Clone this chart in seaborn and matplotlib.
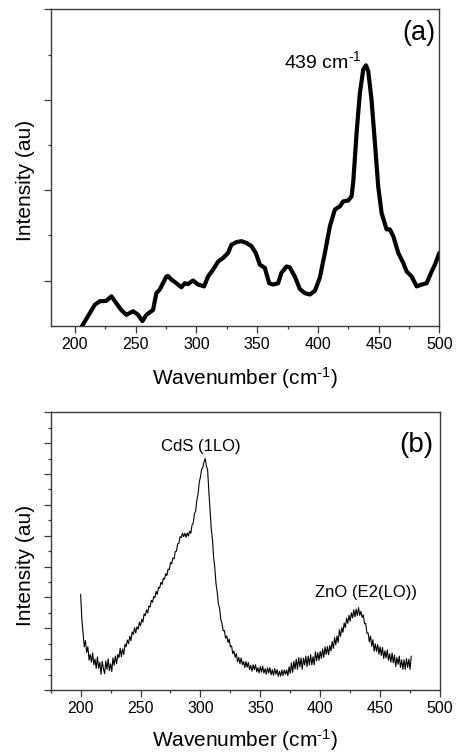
import numpy as np
import pandas as pd
import matplotlib
matplotlib.use("Agg")
import matplotlib.pyplot as plt
import seaborn as sns
from matplotlib.ticker import MultipleLocator, FixedLocator

# ---------------- data ----------------
# panel (a): Raman spectrum (thick line)
wn_a = [204, 206, 210.7, 216.2, 220.3, 225.8, 230, 234, 238, 242.3, 247.8, 252, 255.5,
        258.8, 264.3, 267, 269.8, 275.3, 276.6, 279.4, 283.5, 287.6, 290.4, 293, 297.2,
        301.4, 306.3, 309.6, 313.7, 317.9, 322, 326.1, 328.8, 333, 337.1, 341.2, 345.3,
        348.9, 352.2, 356.3, 359.9, 363.2, 367.3, 370, 374.2, 376.9, 381, 385.2, 389.3,
        393.4, 397.5, 401.6, 405.8, 409.9, 414, 418.1, 420.9, 425, 427.7, 429.1, 431.9,
        434.6, 437.4, 439.6, 441.5, 444.2, 447, 449.7, 452.5, 456.6, 459.3, 462.1, 466.2,
        470.3, 473.1, 477.2, 481.3, 485.4, 489.6, 493.7, 496.4, 500]
int_a = [-0.15, 0.0, 0.21, 0.46, 0.54, 0.55, 0.65, 0.5, 0.35, 0.24, 0.32, 0.24, 0.1,
         0.24, 0.35, 0.72, 0.8, 1.09, 1.1, 1.02, 0.94, 0.85, 0.94, 0.92, 1.0,
         0.91, 0.87, 1.09, 1.24, 1.42, 1.5, 1.61, 1.79, 1.85, 1.87, 1.83, 1.76,
         1.61, 1.35, 1.28, 0.94, 0.91, 0.94, 1.17, 1.31, 1.29, 1.09, 0.81, 0.72,
         0.69, 0.77, 1.06, 1.61, 2.2, 2.57, 2.64, 2.75, 2.77, 2.86, 3.16, 4.27,
         5.15, 5.67, 5.76, 5.63, 5.0, 4.04, 3.08, 2.49, 2.13, 2.13, 1.98, 1.61,
         1.39, 1.2, 1.09, 0.87, 0.91, 0.94, 1.2, 1.35, 1.61]

# panel (b): noisy Raman spectrum (thin line), read every 1 cm-1 from 200 to 476
wn_b = list(range(200, 477))
int_b = [
    3.10, 2.30, 1.85, 1.40, 1.60, 1.22, 1.40, 0.97, 1.15, 0.90,   # 200
    1.20, 0.82, 1.00, 0.70, 1.07, 0.71, 0.90, 0.51, 0.93, 0.69,   # 210
    0.53, 0.94, 0.67, 1.01, 0.63, 0.85, 0.60, 1.04, 0.80, 1.10,   # 220
    0.85, 1.15, 1.05, 1.35, 1.08, 1.33, 1.15, 1.49, 1.40, 1.62,   # 230
    1.50, 1.74, 1.60, 1.88, 1.80, 2.02, 1.85, 2.05, 1.97, 2.20,   # 240
    2.08, 2.29, 2.20, 2.47, 2.41, 2.60, 2.50, 2.72, 2.69, 2.91,   # 250
    2.84, 3.03, 2.99, 3.20, 3.10, 3.33, 3.30, 3.49, 3.42, 3.62,   # 260
    3.59, 3.77, 3.71, 3.92, 3.90, 4.13, 4.09, 4.28, 4.25, 4.49,   # 270
    4.50, 4.74, 4.75, 4.97, 4.94, 5.08, 4.97, 5.08, 4.95, 5.09,   # 280
    4.99, 5.15, 5.08, 5.35, 5.41, 5.71, 5.80, 6.15, 6.34, 6.73,   # 290
    6.90, 7.16, 7.21, 7.40, 7.50, 7.25, 7.14, 6.45, 5.84, 5.25,   # 300
    4.90, 4.31, 3.96, 3.45, 3.18, 2.79, 2.65, 2.28, 2.16, 1.92,   # 310
    1.93, 1.68, 1.75, 1.54, 1.65, 1.40, 1.43, 1.18, 1.26, 1.06,   # 320
    1.18, 0.91, 1.06, 0.85, 1.04, 0.82, 0.92, 0.73, 0.92, 0.74,   # 330
    0.89, 0.66, 0.80, 0.61, 0.82, 0.66, 0.82, 0.59, 0.72, 0.55,   # 340
    0.76, 0.58, 0.77, 0.55, 0.69, 0.51, 0.72, 0.55, 0.72, 0.49,   # 350
    0.66, 0.48, 0.69, 0.51, 0.66, 0.44, 0.61, 0.45, 0.65, 0.47,   # 360
    0.65, 0.51, 0.65, 0.46, 0.75, 0.54, 0.88, 0.57, 0.93, 0.68,   # 370
    1.00, 0.67, 1.05, 0.75, 1.04, 0.67, 1.03, 0.81, 1.10, 0.76,   # 380
    1.10, 0.81, 1.15, 0.81, 1.08, 0.82, 1.24, 0.94, 1.21, 0.96,   # 390
    1.25, 1.02, 1.33, 1.06, 1.40, 1.15, 1.41, 1.14, 1.44, 1.27,   # 400
    1.57, 1.35, 1.70, 1.47, 1.75, 1.54, 1.95, 1.74, 2.02, 1.87,   # 410
    2.17, 2.02, 2.33, 2.16, 2.42, 2.23, 2.50, 2.34, 2.60, 2.37,   # 420
    2.62, 2.41, 2.67, 2.42, 2.55, 2.35, 2.43, 2.15, 2.15, 1.84,   # 430
    1.85, 1.56, 1.75, 1.42, 1.63, 1.26, 1.50, 1.25, 1.47, 1.16,   # 440
    1.40, 1.12, 1.38, 1.02, 1.27, 1.04, 1.30, 0.96, 1.17, 0.90,   # 450
    1.20, 0.88, 1.13, 0.76, 1.05, 0.83, 1.10, 0.73, 0.98, 0.67,   # 460
    0.98, 0.67, 1.02, 0.73, 1.00, 0.67, 1.10]                     # 470

x_label = "Wavenumber (cm$^{\\text{-}1}$)"
y_label = "Intensity (au)"
peak_label_a = "439 cm$^{\\text{-}1}$"
peak_labels_b = ["CdS (1LO)", "ZnO (E2(LO))"]
panel_tags = ["(a)", "(b)"]

df_a = pd.DataFrame({"wn": wn_a, "I": int_a})
df_b = pd.DataFrame({"wn": wn_b, "I": int_b})

# ---------------- style ----------------
sns.set_theme(style="ticks")
plt.rcParams["font.family"] = ["Liberation Sans", "DejaVu Sans"]
plt.rcParams["mathtext.fontset"] = "custom"
plt.rcParams["mathtext.rm"] = "Liberation Sans"
plt.rcParams["mathtext.it"] = "Liberation Sans:italic"
plt.rcParams["mathtext.bf"] = "Liberation Sans:bold"
for k in ["text.color", "axes.labelcolor", "xtick.labelcolor", "ytick.labelcolor"]:
    plt.rcParams[k] = "black"

W, H = 460, 752
fig = plt.figure(figsize=(W / 100, H / 100), dpi=100)

def px_axes(l, t, r, b):
    return fig.add_axes([l / W, 1 - b / H, (r - l) / W, (b - t) / H])

ax1 = px_axes(50.7, 9.3, 439.3, 325.7)
ax2 = px_axes(50.7, 412.3, 440.0, 690.0)

sns.lineplot(data=df_a, x="wn", y="I", ax=ax1, color="black", linewidth=3.0,
             estimator=None, sort=False)
sns.lineplot(data=df_b, x="wn", y="I", ax=ax2, color="black", linewidth=0.8,
             estimator=None, sort=False)

spine_c = "#3a3a3a"
for ax in (ax1, ax2):
    for s in ax.spines.values():
        s.set_color(spine_c)
        s.set_linewidth(1.0)
    ax.tick_params(which="major", direction="out", length=4.8, width=0.9,
                   color=spine_c, labelsize=11.5, pad=3, labelcolor="black")
    ax.tick_params(which="minor", direction="out", length=2.4, width=0.9,
                   color=spine_c)
    ax.tick_params(axis="y", labelleft=False)
    ax.xaxis.set_major_locator(MultipleLocator(50))
    ax.set_xlabel(x_label, fontsize=15, color="black")
    ax.set_ylabel(y_label, fontsize=15, color="black", va="center")

ax1.set_xlim(180, 500)
ax1.set_ylim(0, 7.0)
ax1.xaxis.set_minor_locator(FixedLocator([225, 275, 325, 375, 425, 475]))
ax1.yaxis.set_major_locator(FixedLocator([1, 3, 5, 7]))
ax1.yaxis.set_minor_locator(FixedLocator([2, 4, 6]))

ax2.set_xlim(175, 500)
ax2.set_ylim(0, 9.0)
ax2.xaxis.set_minor_locator(FixedLocator([175, 225, 275, 325, 375, 425, 475]))
ax2.yaxis.set_major_locator(FixedLocator(list(range(0, 10))))
ax2.yaxis.set_minor_locator(FixedLocator([i + 0.5 for i in range(9)]))

ax1.yaxis.set_label_coords(-0.066, 0.46)
ax1.xaxis.set_label_coords(0.5, -0.165)
ax2.yaxis.set_label_coords(-0.066, 0.45)
ax2.xaxis.set_label_coords(0.5, -0.18)
ax1.xaxis.label.set_va("center")
ax2.xaxis.label.set_va("center")

# annotations
ax1.text(404, 5.71, peak_label_a, fontsize=14, ha="center", va="baseline", color="black")
ax1.text(483.3, 6.33, panel_tags[0], fontsize=19.5, ha="center", va="baseline", color="black")
ax2.text(300.5, 7.75, peak_labels_b[0], fontsize=12, ha="center", va="baseline", color="black")
ax2.text(437.9, 3.0, peak_labels_b[1], fontsize=12, ha="center", va="baseline", color="black")
ax2.text(480.6, 7.72, panel_tags[1], fontsize=20, ha="center", va="baseline", color="black")

fig.savefig("out.png", dpi=100)
